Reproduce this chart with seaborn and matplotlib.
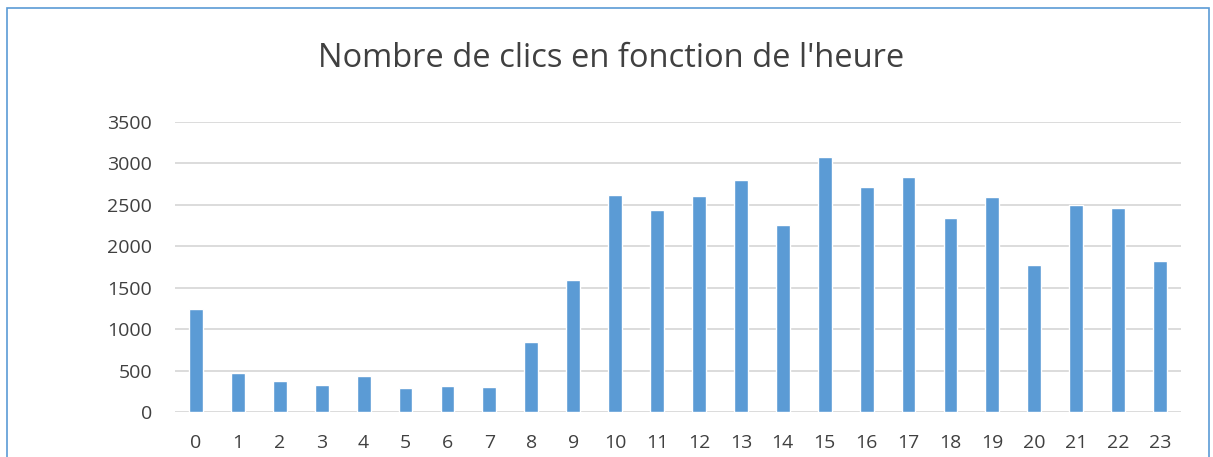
import matplotlib
matplotlib.use('Agg')
import matplotlib.pyplot as plt
import seaborn as sns
import pandas as pd
from matplotlib.patches import Rectangle

# Data
hours = list(range(24))
clicks = [1248, 474, 373, 325, 433, 285, 309, 297, 847, 1593,
          2616, 2436, 2608, 2797, 2259, 3074, 2721, 2833, 2343, 2596,
          1770, 2496, 2464, 1826]
yticks = [0, 500, 1000, 1500, 2000, 2500, 3000, 3500]

df = pd.DataFrame({'heure': hours, 'clics': clicks})

sns.set_style('white')
plt.rcParams['font.family'] = ['Open Sans', 'DejaVu Sans']

fig = plt.figure(figsize=(12.13, 4.57), dpi=100)
ax = fig.add_axes([0.1443, 0.0985, 0.8293, 0.6345])

sns.barplot(data=df, x='heure', y='clics', color='#5b9bd5', width=0.33,
            saturation=1, ax=ax, zorder=3)

ax.set_ylim(0, 3500)
ax.set_yticks(yticks)
ax.set_yticklabels([str(t) for t in yticks])
ax.grid(axis='y', color='#d9d9d9', linewidth=1.3, zorder=0)
ax.set_axisbelow(True)
for s in ax.spines.values():
    s.set_visible(False)
ax.tick_params(axis='both', length=0, labelsize=14, labelcolor='#404040')
ax.tick_params(axis='x', pad=16)
ax.tick_params(axis='y', pad=16.5)
ax.set_xlabel('')
ax.set_ylabel('')

fig.text(0.504, 0.8534, "Nombre de clics en fonction de l'heure", ha='center', va='baseline',
         fontsize=23.5, color='#404040')

# chart frame
fig.patches.append(Rectangle((0.006, -0.1), 0.991, 1.082, transform=fig.transFigure,
                             fill=False, edgecolor='#5b9bd5', linewidth=1.2))

fig.savefig('out.png', dpi=100)
